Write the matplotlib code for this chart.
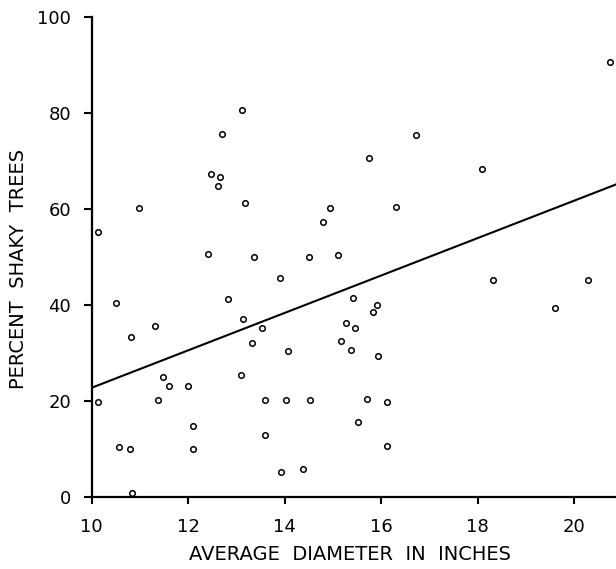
import numpy as np
import matplotlib
matplotlib.use('Agg')
import matplotlib.pyplot as plt

# average diameter (inches) vs percent shaky trees
diameter = [13.11, 12.70, 12.48, 12.65, 12.62, 13.18, 10.98, 10.12, 12.41, 13.37,
            16.73, 15.74, 14.93, 16.31, 14.79, 14.50, 15.10, 20.74, 18.10, 18.32,
            20.28, 19.61, 10.51, 12.83, 13.14, 13.53, 11.32, 10.81, 13.32, 13.10,
            11.48, 11.61, 11.99, 10.12, 11.38, 13.59, 12.10, 13.59, 10.57, 10.79,
            12.11, 10.84, 13.90, 15.41, 15.91, 15.83, 15.28, 15.45, 15.16, 15.37,
            14.06, 15.93, 14.02, 14.52, 15.70, 16.12, 15.53, 16.13, 13.93, 14.39]
shaky_pct = [80.5, 75.5, 67.2, 66.7, 64.7, 61.2, 60.2, 55.3, 50.7, 50.0,
             75.3, 70.5, 60.3, 60.4, 57.2, 50.1, 50.5, 90.6, 68.3, 45.2,
             45.2, 39.4, 40.5, 41.3, 37.1, 35.3, 35.7, 33.4, 32.1, 25.5,
             25.0, 23.1, 23.2, 19.8, 20.2, 20.3, 14.9, 12.9, 10.4, 10.1,
             10.1, 0.9, 45.7, 41.5, 40.1, 38.5, 36.2, 35.3, 32.5, 30.7,
             30.5, 29.5, 20.2, 20.3, 20.4, 19.9, 15.7, 10.6, 5.3, 5.9]

# regression line end points
fit_x = [10.0, 20.87]
fit_y = [22.8, 65.1]

x_ticks = [10, 12, 14, 16, 18, 20]
y_ticks = [0, 20, 40, 60, 80, 100]

fig = plt.figure(figsize=(6.16, 5.69), dpi=100)
ax = fig.add_axes([0.1489, 0.126, 0.8511, 0.8446])

ax.plot(diameter, shaky_pct, 'o', ms=4, mfc='white', mec='black', mew=1.1, clip_on=False, zorder=3)
ax.plot(fit_x, fit_y, color='black', linewidth=1.5)

ax.set_xlim(10, 20.87)
ax.set_ylim(0, 100)

for s in ['top', 'right']:
    ax.spines[s].set_visible(False)
for s in ['left', 'bottom']:
    ax.spines[s].set_linewidth(1.6)

ax.set_xticks(x_ticks)
ax.set_yticks(y_ticks)
ax.tick_params(axis='x', direction='out', length=5, width=1.5, pad=10, labelsize=13)
ax.tick_params(axis='y', direction='out', length=6, width=1.5, pad=9, labelsize=13)

ax.set_xlabel('AVERAGE  DIAMETER  IN  INCHES', fontsize=14)
ax.xaxis.set_label_coords(0.4927, -0.100)
ax.set_ylabel('PERCENT  SHAKY  TREES', fontsize=14)
ax.yaxis.set_label_coords(-0.1215, 0.475)

plt.savefig('out.png', dpi=100)
